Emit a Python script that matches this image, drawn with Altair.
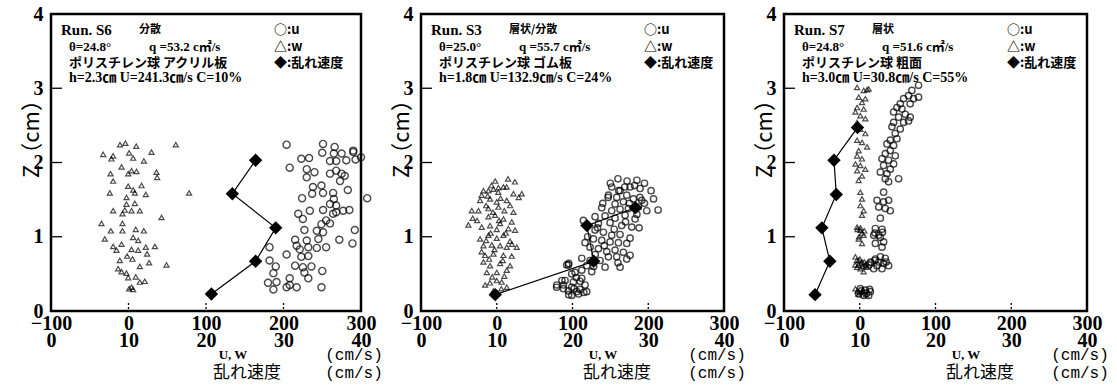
import altair as alt
import pandas as pd

# ---------------- data ----------------
x_tick_values = [-100, 0, 100, 200, 300]
y_tick_values = [0, 1, 2, 3, 4]
inner_x_ticks = [0, 100, 200]
inner_y_ticks = [1, 2, 3]

# Run S6 : u (U, z), w (W, z), turbulence (t, z)
s6_u = [[208,1.93],[223,2.05],[233,2.06],[250,2.13],[265,2.12],[275,2.12],[290,2.14],[260,2.02],[268,2.02],
        [281,2.03],[293,2.04],[230,1.91],[240,1.87],[260,1.85],[268,1.89],[275,1.85],[279,1.82],[230,1.80],
        [273,1.75],[238,1.67],[249,1.69],[237,1.58],[251,1.59],[264,1.59],[283,1.63],[224,1.52],[265,1.51],
        [260,1.44],[268,1.42],[219,1.31],[234,1.35],[251,1.36],[225,1.24],[268,1.33],[277,1.35],[285,1.36],
        [255,1.22],[264,1.31],[227,1.09],[249,1.17],[260,1.18],[243,1.08],[251,1.06],[215,0.96],[230,0.95],
        [245,0.97],[217,0.88],[232,0.86],[243,0.85],[255,0.86],[272,0.96],[292,1.09],[289,0.91],[182,0.86],
        [204,0.76],[182,0.68],[221,0.83],[223,0.73],[232,0.74],[190,0.60],[215,0.61],[225,0.59],[236,0.60],
        [250,0.54],[187,0.51],[227,0.52],[208,0.44],[232,0.44],[180,0.38],[191,0.39],[208,0.35],[217,0.32],
        [249,0.32],[187,0.29],[204,0.32],[308,1.52],[204,2.24],[251,2.25],[266,2.21],[290,2.16],[300,2.07]]
s6_w = [[-32.7,2.11],[-19.8,2.09],[-22,2.05],[0.8,2.13],[6,2.06],[19.8,2.02],[29.7,2.14],[-9,1.94],[3.9,1.89],
        [10.3,1.88],[-0.4,1.85],[-23.2,1.85],[36.1,1.87],[37,1.80],[-19.8,1.75],[-0.4,1.68],[6,1.63],[16.8,1.69],
        [-24.1,1.59],[-2.6,1.53],[8.2,1.59],[22.3,1.57],[78.2,1.59],[-2.6,1.44],[8.2,1.45],[-4.8,1.36],[3.9,1.35],
        [14.6,1.35],[-19.8,1.35],[-7.8,1.31],[42.6,1.26],[-34.9,1.18],[-7.8,1.18],[-22.8,1.08],[-7.8,1.08],
        [9.4,1.10],[19.8,1.08],[-30.6,0.97],[6,0.99],[12.5,0.95],[-19.8,0.87],[-9,0.90],[3.9,0.83],[12.5,0.82],
        [22.3,0.86],[34,0.87],[-15.5,0.82],[-1.7,0.74],[5.1,0.70],[24,0.77],[-11.2,0.68],[14.6,0.60],[26.6,0.65],
        [49,0.62],[-13.4,0.57],[-9,0.53],[-2.6,0.51],[-0.4,0.45],[9.4,0.46],[14.6,0.39],[21,0.40],[3.9,0.32],
        [6,0.29],[0.8,0.30],[-11,2.24],[-4,2.26],[10,2.22],[61,2.24]]
s6_turb = [[20.7,0.23],[26.4,0.67],[29.0,1.12],[23.4,1.58],[26.4,2.03]]

# Run S3
s3_u = [[151.8,1.67],[162.8,1.62],[176,1.67],[189.2,1.65],[203.7,1.62],[147.4,1.56],[158.4,1.53],[171.6,1.56],
        [180.4,1.51],[191.4,1.49],[156.2,1.44],[167.2,1.47],[138.6,1.39],[151.8,1.35],[162.8,1.37],[173.8,1.38],
        [187,1.40],[198,1.35],[129.8,1.27],[143,1.28],[156.2,1.25],[169.4,1.29],[182.6,1.24],[114.4,1.22],
        [134.2,1.18],[149.6,1.19],[165,1.15],[178.2,1.13],[187.9,1.12],[129.8,1.09],[140.8,1.06],[151.8,1.02],
        [162.8,1.03],[176,0.98],[116.6,0.92],[127.6,0.97],[138.6,0.95],[149.6,0.93],[160.6,0.92],[171.6,0.91],
        [123.2,0.86],[134.2,0.84],[145.2,0.80],[156.2,0.82],[167.2,0.79],[176,0.75],[112.2,0.71],[123.2,0.68],
        [136.4,0.68],[147.4,0.73],[158.4,0.73],[171.6,0.70],[143,0.59],[162.8,0.59],[118.8,0.61],[112.2,0.55],
        [125.4,0.53],[94.6,0.62],[103.4,0.52],[90.2,0.41],[101.2,0.39],[112.2,0.44],[116.6,0.35],[94.6,0.27],
        [105.6,0.26],[118.8,0.26],[88,0.35],[110,0.29],[99,0.32],[213,1.36],[92.4,0.62],[99,0.50],[79.2,0.35],
        [88,0.30],[99,0.21],[79,0.32],[86,0.41],[95,0.64],[108,0.23],[147,1.53],[161,1.62],[169,1.67],[182,1.69],
        [189,1.53],[207,1.51],[160,1.78],[172,1.75],[185,1.76],[195,1.72],[150,1.72],[120,1.00],[133,1.12],
        [155,1.10],[170,1.20],[142,0.88],[160,0.65],[130,0.76],[185,1.30],[195,1.45],[140,1.45],[175,1.45],
        [128,0.60],[105,0.45],[115,0.25],[102,0.30],[95,0.22],[110,0.40]]
s3_w = [[-17.6,1.62],[-4.4,1.64],[2.2,1.66],[8.8,1.67],[22,1.58],[33,1.58],[-22,1.49],[-8.8,1.51],[0,1.47],
        [13.2,1.49],[-33,1.35],[-24.2,1.35],[-11,1.38],[2.2,1.40],[17.6,1.42],[22,1.33],[-37.4,1.16],[-31.7,1.25],
        [-11,1.27],[-2.2,1.29],[8.8,1.24],[19.8,1.20],[-19.8,1.13],[-8.8,1.15],[4.4,1.18],[15.4,1.11],[24.2,1.09],
        [-22,0.97],[-11,1.02],[0,0.98],[8.8,1.02],[17.6,0.94],[26.4,0.86],[-17.6,0.88],[-6.6,0.89],[4.4,0.88],
        [13.2,0.86],[-15.4,0.75],[-4.4,0.77],[8.8,0.75],[19.8,0.74],[-17.6,0.66],[-8.8,0.61],[4.4,0.64],
        [17.6,0.61],[-13.2,0.52],[0,0.52],[13.2,0.55],[0,0.41],[6.6,0.39],[-15.4,0.35],[-4.4,0.27],[13.2,0.32],
        [-20,1.56],[-11,1.62],[2,1.60],[13,1.67],[24,1.74],[29,1.53],[-7,1.69],[-14,1.42],[-5,1.33],[10,1.35],
        [-26,1.22],[0,1.10],[12,1.05],[-14,0.95],[-3,0.83],[20,0.90],[-10,0.70],[8,0.68],[-6,0.46],[10,0.47],
        [-12,1.55],[5,1.52],[-2,1.75],[15,1.78],[-8,1.05],[-20,0.80],[3,1.22],[-9,0.38],[6,0.30]]
s3_turb = [[9.8,0.22],[22.8,0.67],[21.9,1.15],[28.3,1.39]]

# Run S7
s7_u = [[77.6,3.04],[68.8,2.97],[64.4,2.90],[57.9,2.86],[71.0,2.86],[77.6,2.88],[53.5,2.79],[66.6,2.79],
        [49.1,2.74],[55.7,2.72],[44.7,2.68],[60.1,2.65],[66.6,2.61],[51.3,2.61],[44.7,2.54],[57.9,2.54],
        [64.4,2.56],[42.5,2.48],[53.5,2.45],[46.9,2.39],[40.3,2.30],[49.1,2.32],[35.9,2.25],[44.7,2.23],
        [40.3,2.16],[33.7,2.12],[46.9,2.09],[29.4,2.05],[38.1,2.03],[44.7,1.98],[31.5,1.96],[40.3,1.91],
        [27.2,1.87],[36.0,1.85],[51.3,1.78],[33.7,1.78],[38.1,1.74],[31.5,1.60],[22.8,1.49],[31.5,1.47],
        [38.1,1.49],[25.0,1.40],[33.7,1.38],[40.3,1.35],[27.2,1.25],[20.6,1.11],[29.4,1.10],[18.4,1.02],
        [27.2,0.99],[31.5,0.93],[20.6,0.91],[29.4,0.86],[20.6,0.70],[27.2,0.73],[33.7,0.71],[14.0,0.66],
        [22.8,0.61],[31.5,0.64],[38.1,0.61],[18.4,0.57],[29.4,0.57],[0.8,0.30],[7.4,0.28],[14.0,0.26],
        [-1.4,0.23],[5.2,0.21],[11.8,0.21],[15,0.65],[20,0.68],[25,0.66],[35,0.66],[12,0.62],[20,1.05],
        [25,1.02],[30,1.06],[2,0.27],[9,0.24],[13,0.29]]
s7_w = [[-3.5,3.01],[5.2,2.97],[11.8,2.99],[-1.4,2.88],[7.4,2.86],[3.0,2.81],[-3.5,2.74],[5.2,2.72],[-5.7,2.68],
        [0.8,2.63],[7.4,2.59],[-3.5,2.54],[0.8,2.45],[7.4,2.39],[-3.5,2.30],[3.0,2.27],[9.6,2.21],[-1.4,2.16],
        [-3.5,2.09],[3.0,2.05],[-5.7,1.98],[0.8,1.96],[7.4,1.91],[-3.5,1.89],[3.0,1.82],[-1.4,1.76],[0.8,1.60],
        [3.0,1.51],[0.8,1.42],[5.2,1.35],[3.0,1.29],[-3.5,1.13],[0.8,1.09],[5.2,1.02],[-1.4,0.97],[3.0,0.91],
        [-5.7,0.73],[-1.4,0.68],[3.0,0.66],[7.4,0.61],[-3.5,0.59],[0.8,0.57],[5.2,0.53],[9.6,0.59],[-5.7,0.30],
        [-1.4,0.23],[3.0,0.26],[9.6,2.98],[-2,0.62],[2,0.64],[6,0.66],[-4,0.68],[0,0.70],[4,0.60],[8,0.63],
        [-6,0.62],[-1,1.00],[3,1.05],[6,1.08],[-3,1.10],[1,1.12],[0,0.25],[4,0.28],[-3,0.27],[8,0.22]]
s7_turb = [[4.1,0.22],[6.05,0.67],[5.0,1.12],[6.9,1.57],[6.6,2.03],[9.7,2.47]]

panel_texts = {
    "S6": ["Run. S6", "分散", "θ=24.8°", "q =53.2 c㎡/s", "ポリスチレン球 アクリル板", "h=2.3㎝ U=241.3㎝/s C=10%"],
    "S3": ["Run. S3", "層状/分散", "θ=25.0°", "q =55.7 c㎡/s", "ポリスチレン球 ゴム板", "h=1.8㎝ U=132.9㎝/s C=24%"],
    "S7": ["Run. S7", "層状", "θ=24.8°", "q =51.6 c㎡/s", "ポリスチレン球 粗面", "h=3.0㎝ U=30.8㎝/s C=55%"],
}
legend_texts = ["○:u", "△:w", "◆:乱れ速度"]

# ---------------- chart ----------------
SERIF = "Liberation Serif"
CJK = "Noto Sans CJK JP"
MIX = "Liberation Serif, Noto Sans CJK JP"
H = 297


def xenc(field="U"):
    return alt.X(f"{field}:Q",
                 scale=alt.Scale(domain=[-100, 300], nice=False, zero=False),
                 axis=alt.Axis(values=x_tick_values, title=None, grid=False, domain=False, ticks=False,
                               labelExpr="[datum.label, format((datum.value + 100) / 10, 'd')]",
                               labelFont=SERIF, labelFontSize=20, labelFontWeight="bold",
                               labelColor="black", labelLineHeight=17, labelPadding=2,
                               labelBaseline="top", labelFlush=False, labelOverlap=False))


def yenc():
    return alt.Y("z:Q",
                 scale=alt.Scale(domain=[0, 4], nice=False),
                 axis=alt.Axis(values=y_tick_values, format="d", title="Z（cm）", grid=False,
                               domain=False, ticks=False,
                               labelFont=SERIF, labelFontSize=20, labelFontWeight="bold",
                               labelColor="black", labelPadding=8,
                               titleFont=CJK, titleFontSize=22, titleFontWeight="normal",
                               titleColor="black", titleX=-20, titleY=119, titleBaseline="middle"))


def txt(s, x, y, size, font, weight="bold", align="left"):
    return alt.Chart(pd.DataFrame({"k": [0]})).mark_text(
        text=s, font=font, fontSize=size, fontWeight=weight, align=align,
        baseline="middle", color="black").encode(x=alt.value(x), y=alt.value(y))


def panel(key, u, w, turb, width, csize):
    du = pd.DataFrame(u, columns=["U", "z"])
    dw = pd.DataFrame(w, columns=["U", "z"])
    dt = pd.DataFrame(turb, columns=["t", "z"])
    w_layer = alt.Chart(dw).mark_point(shape="triangle-up", filled=False, color="black",
                                       size=26, strokeWidth=1.2).encode(x=xenc(), y=yenc())
    u_layer = alt.Chart(du).mark_point(shape="circle", filled=False, color="black",
                                       size=csize, strokeWidth=1.4).encode(x=xenc(), y=yenc())
    base_t = alt.Chart(dt).transform_calculate(U="(datum.t - 10) * 10")
    t_line = base_t.mark_line(color="black", strokeWidth=1.2).encode(
        x=xenc(), y=yenc(), order="z:Q")
    t_pts = base_t.mark_point(shape="diamond", filled=True, color="black", size=180,
                              opacity=1).encode(x=xenc(), y=yenc())
    yt = alt.Chart(pd.DataFrame({"z": inner_y_ticks})).mark_rule(color="black", strokeWidth=1.3).encode(
        y=yenc(), x=alt.value(0), x2=alt.value(11))
    xt = alt.Chart(pd.DataFrame({"U": inner_x_ticks})).mark_rule(
        color="black", strokeWidth=1.3, strokeDash=[2, 2]).encode(
        x=xenc(), y=alt.value(H - 8), y2=alt.value(H))
    tx = panel_texts[key]
    texts = [
        txt(tx[0], 10, 16, 15, SERIF),
        txt(tx[1], 88, 16, 11, CJK),
        txt(tx[2], 18, 33, 13, MIX),
        txt(tx[3], 98, 33, 13, MIX),
        txt(tx[4], 18, 49, 13, CJK),
        txt(tx[5], 18, 64, 14, MIX),
        txt(legend_texts[0], 223, 16, 13, CJK),
        txt(legend_texts[1], 223, 33, 13, CJK),
        txt(legend_texts[2], 223, 49, 13, CJK),
        txt("U, W", 182, 341, 13, SERIF, align="center"),
        txt("乱れ速度", 196, 359, 17, CJK, weight="normal", align="center"),
        txt("(cm/s)", width - 7, 341, 16, "Liberation Mono", weight="normal", align="center"),
        txt("(cm/s)", width - 7, 359, 16, "Liberation Mono", weight="normal", align="center"),
    ]
    return alt.layer(w_layer, u_layer, t_line, t_pts, yt, xt, *texts).properties(width=width, height=H)


p1 = panel("S6", s6_u, s6_w, s6_turb, 310, 50)
p2 = panel("S3", s3_u, s3_w, s3_turb, 303, 40)
p3 = panel("S7", s7_u, s7_w, s7_turb, 303, 40)

chart = alt.hconcat(p1, p2, p3, spacing=60, bounds="flush").configure_view(
    stroke="black", strokeWidth=2.5).properties(
    padding={"left": 18, "top": 2, "right": 5, "bottom": 5}, background="white")

chart.save("out.html", embed_options={"renderer": "svg", "actions": False})
